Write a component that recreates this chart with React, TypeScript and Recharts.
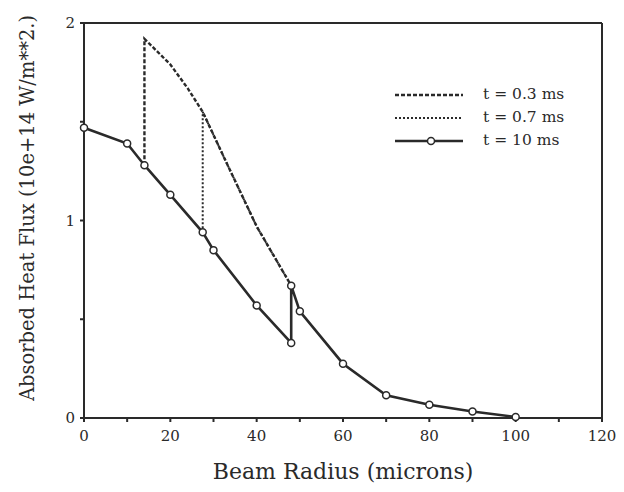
import React from 'react';
import { Line, LineChart, ReferenceLine, XAxis, YAxis } from 'recharts';

// t = 10 ms (solid, open circles)
const radius10 = [0, 10, 14, 20, 27.5, 30, 40, 48, 48, 50, 60, 70, 80, 90, 100];
const flux10 = [1.47, 1.39, 1.28, 1.13, 0.94, 0.85, 0.57, 0.38, 0.67, 0.54, 0.275, 0.115, 0.067, 0.033, 0.005];

// t = 0.3 ms (coarse dashes)
const radius03 = [14, 14, 20, 24, 27.5, 33.5, 40, 48];
const flux03 = [1.28, 1.92, 1.79, 1.67, 1.55, 1.27, 0.97, 0.67];

// t = 0.7 ms (fine dots)
const radius07 = [27.5, 27.5, 33.5, 40, 48];
const flux07 = [0.94, 1.55, 1.27, 0.97, 0.67];

const xTicks = [0, 10, 20, 30, 40, 50, 60, 70, 80, 90, 100, 110, 120];
const yTicks = [0, 0.5, 1, 1.5, 2];

const ink = '#2a2a2a';
const serif = '"DejaVu Serif", "Liberation Serif", serif';

const toPoints = (xs: number[], ys: number[]) => xs.map((r, i) => ({ r, v: ys[i] }));

const series = [
  { name: 't = 0.7 ms', data: toPoints(radius07, flux07), dash: '2 2', width: 2 },
  { name: 't = 0.3 ms', data: toPoints(radius03, flux03), dash: '4 2', width: 2.4 },
];
const solid = toPoints(radius10, flux10);

const legendItems = [
  { label: 't = 0.3 ms', dash: '4 2', w: 2.4, dot: false },
  { label: 't = 0.7 ms', dash: '2 2', w: 2, dot: false },
  { label: 't = 10 ms', dash: undefined, w: 2.6, dot: true },
];

const LegendBox = () => (
  <div style={{ position: 'absolute', left: 393, top: 83, fontFamily: serif, fontSize: 15.5, color: ink }}>
    {legendItems.map((item) => (
      <div key={item.label} style={{ display: 'flex', alignItems: 'center', height: 23 }}>
        <svg width={72} height={12} style={{ marginRight: 18 }}>
          <line x1={2} y1={6} x2={70} y2={6} stroke={ink} strokeWidth={item.w} strokeDasharray={item.dash} />
          {item.dot && <circle cx={38} cy={6} r={3.5} fill="#fff" stroke={ink} strokeWidth={1.5} />}
        </svg>
        <span style={{ lineHeight: '23px' }}>{item.label}</span>
      </div>
    ))}
  </div>
);

const YTitle = () => (
  <text
    x={27}
    y={208}
    transform="rotate(-90 27 208)"
    textAnchor="middle"
    dominantBaseline="central"
    fill={ink}
    fontSize={19.5}
    fontFamily={serif}
  >
    Absorbed Heat Flux (10e+14 W/m**2.)
  </text>
);

export default function App() {
  return (
    <div style={{ position: 'absolute', left: 0, top: 0, width: 624, height: 492, background: '#fff' }}>
      <LineChart width={624} height={492} margin={{ top: 23, right: 22, bottom: 24, left: 34 }}>
        <XAxis
          dataKey="r"
          type="number"
          domain={[0, 120]}
          ticks={xTicks}
          interval={0}
          tickFormatter={(v: number) => (v % 20 === 0 ? String(v) : '')}
          tick={{ fill: ink, fontSize: 15, fontFamily: serif }}
          tickSize={4}
          tickMargin={8}
          stroke={ink}
          strokeWidth={2}
          height={50}
          label={{
            value: 'Beam Radius (microns)',
            position: 'insideBottom',
            offset: -11,
            style: { fill: ink, fontSize: 22, fontFamily: serif },
          }}
        />
        <YAxis
          dataKey="v"
          type="number"
          domain={[0, 2]}
          ticks={yTicks}
          interval={0}
          tickFormatter={(v: number) => (Number.isInteger(v) ? String(v) : '')}
          tick={{ fill: ink, fontSize: 15, fontFamily: serif }}
          tickSize={4}
          tickMargin={5}
          stroke={ink}
          strokeWidth={2}
          width={50}
          label={{ content: () => <YTitle /> }}
        />
        <ReferenceLine y={2} stroke={ink} strokeWidth={2} ifOverflow="visible" />
        <ReferenceLine x={120} stroke={ink} strokeWidth={2} ifOverflow="visible" />
        {series.map((s) => (
          <Line
            key={s.name}
            data={s.data}
            dataKey="v"
            type="linear"
            stroke={ink}
            strokeWidth={s.width}
            strokeDasharray={s.dash}
            dot={false}
            isAnimationActive={false}
          />
        ))}
        <Line
          data={solid}
          dataKey="v"
          type="linear"
          stroke={ink}
          strokeWidth={2.6}
          dot={{ r: 3.5, fill: '#fff', stroke: ink, strokeWidth: 1.5 }}
          isAnimationActive={false}
        />
      </LineChart>
      <LegendBox />
    </div>
  );
}
